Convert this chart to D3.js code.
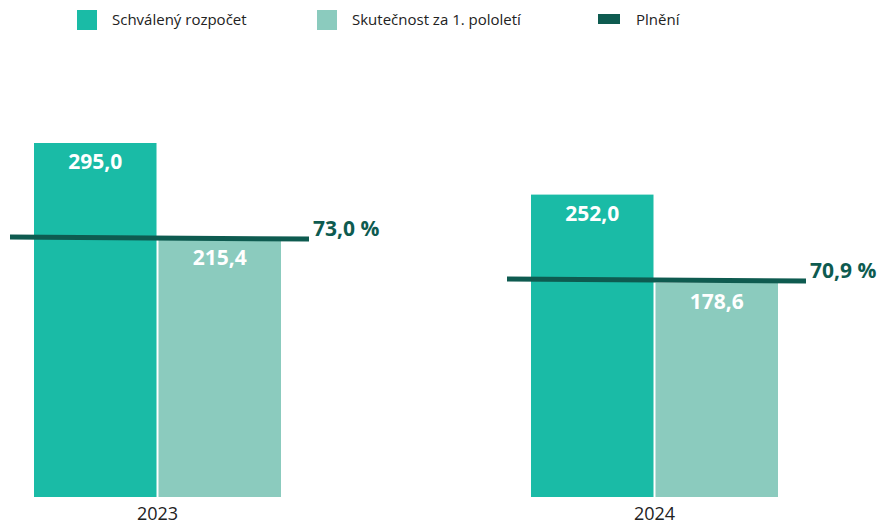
<!DOCTYPE html>
<meta charset="utf-8">
<script src="https://cdn.jsdelivr.net/npm/d3@7"></script>
<style>
  body { margin: 0; background: #fff; font-family: "Open Sans", sans-serif; }
</style>
<body>
<div id="viz"></div>
<script>
// data
const years = ["2023", "2024"];
const series = ["Schválený rozpočet", "Skutečnost za 1. pololetí"];
const schvaleny = [295.0, 252.0];
const skutecnost = [215.4, 178.6];
const plneni = [73.0, 70.9];

const width = 880, height = 527;
const colors = ["#1abba6", "#8bcbbe"];
const lineColor = "#0e5b50";

const fmt = v => v.toFixed(1).replace(".", ",");

const svg = d3.select("#viz").append("svg")
  .attr("width", width)
  .attr("height", height);

const x0 = d3.scaleBand()
  .domain(years)
  .range([-15.7, 827.7])
  .paddingInner(0.503)
  .paddingOuter(0.1);

const x1 = d3.scaleBand()
  .domain(series)
  .range([0, x0.bandwidth()])
  .paddingInner(0.016);

const y = d3.scaleLinear().domain([0, 350]).range([497, 77]);
const y2 = d3.scaleLinear().domain([60, 81]).range([497, 77]);

const rows = years.map((yr, i) => ({
  year: yr,
  vals: [schvaleny[i], skutecnost[i]],
  pct: plneni[i]
}));

const g = svg.selectAll("g.year")
  .data(rows)
  .enter().append("g")
  .attr("class", "year")
  .attr("transform", d => `translate(${x0(d.year)},0)`);

g.selectAll("rect")
  .data(d => d.vals.map((v, j) => ({ s: series[j], v: v, j: j })))
  .enter().append("rect")
  .attr("x", d => x1(d.s))
  .attr("y", d => y(d.v))
  .attr("width", x1.bandwidth())
  .attr("height", d => y(0) - y(d.v))
  .attr("fill", d => colors[d.j]);

g.selectAll("text.val")
  .data(d => d.vals.map((v, j) => ({ s: series[j], v: v, j: j })))
  .enter().append("text")
  .attr("class", "val")
  .attr("x", d => x1(d.s) + x1.bandwidth() / 2)
  .attr("y", d => y(d.v) + 26)
  .attr("text-anchor", "middle")
  .attr("fill", "#fff")
  .attr("font-weight", 700)
  .attr("font-size", 21)
  .text(d => fmt(d.v));

// plnění line
g.append("line")
  .attr("x1", -24)
  .attr("x2", x0.bandwidth() + 28)
  .attr("y1", d => y2(d.pct))
  .attr("y2", d => y2(d.pct) + 2)
  .attr("stroke", lineColor)
  .attr("stroke-width", 5);

g.append("text")
  .attr("x", x0.bandwidth() + 32)
  .attr("y", d => y2(d.pct) - 1)
  .attr("fill", lineColor)
  .attr("font-weight", 700)
  .attr("font-size", 21)
  .text(d => fmt(d.pct) + " %");

// x axis labels
svg.selectAll("text.year")
  .data(years)
  .enter().append("text")
  .attr("class", "year")
  .attr("x", d => x0(d) + x0.bandwidth() / 2)
  .attr("y", 520)
  .attr("text-anchor", "middle")
  .attr("fill", "#222")
  .attr("font-size", 18)
  .text(d => d);

// legend
const legend = [
  { label: series[0], x: 77, type: "sq", color: colors[0] },
  { label: series[1], x: 317, type: "sq", color: colors[1] },
  { label: "Plnění", x: 598, type: "ln", color: lineColor }
];
const lg = svg.selectAll("g.leg")
  .data(legend)
  .enter().append("g")
  .attr("class", "leg")
  .attr("transform", d => `translate(${d.x},0)`);

lg.append("rect")
  .attr("x", 0)
  .attr("y", d => d.type === "sq" ? 10 : 14)
  .attr("width", d => d.type === "sq" ? 20 : 22)
  .attr("height", d => d.type === "sq" ? 20 : 10)
  .attr("fill", d => d.color);

lg.append("text")
  .attr("x", d => d.type === "sq" ? 35 : 38)
  .attr("y", 25)
  .attr("fill", "#222")
  .attr("font-size", 15)
  .text(d => d.label);
</script>
</body>
